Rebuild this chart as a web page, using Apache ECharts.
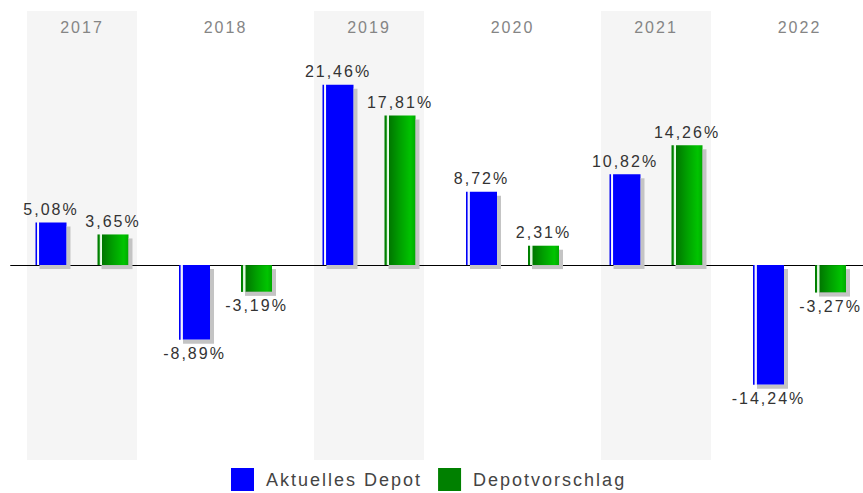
<!DOCTYPE html>
<html>
<head>
<meta charset="utf-8">
<script src="https://cdn.jsdelivr.net/npm/echarts@6/dist/echarts.min.js"></script>
<style>
  html, body { margin: 0; padding: 0; background: #fff; overflow: hidden; width: 863px; height: 493px; }
  #chart { width: 880px; height: 493px; }
  #chart text { letter-spacing: 2px; }
</style>
</head>
<body>
<div id="chart"></div>
<script>
const years = ['2017', '2018', '2019', '2020', '2021', '2022'];
const aktuellesDepot = [5.08, -8.89, 21.46, 8.72, 10.82, -14.24];
const depotvorschlag = [3.65, -3.19, 17.81, 2.31, 14.26, -3.27];
const shadedYears = ['2017', '2019', '2021'];
const seriesNames = ['Aktuelles Depot', 'Depotvorschlag'];
const legendColors = ['#0000ff', '#008000'];

const FONT = '"Liberation Sans", Arial, Helvetica, sans-serif';

function fmt(v) { return v.toFixed(2).replace('.', ',') + '%'; }

function barData(values) {
  return values.map(v => ({
    value: v,
    label: { position: v < 0 ? 'bottom' : 'top', distance: v < 0 ? 6 : 5 }
  }));
}

const blueGrad = new echarts.graphic.LinearGradient(0, 0, 1, 0, [
  { offset: 0, color: '#0000ee' },
  { offset: 0.04, color: '#0000ff' },
  { offset: 0.06, color: '#e8e8ff' },
  { offset: 0.11, color: '#ffffff' },
  { offset: 0.13, color: '#0000ff' },
  { offset: 1, color: '#0000ff' }
]);
const greenGrad = new echarts.graphic.LinearGradient(0, 0, 1, 0, [
  { offset: 0, color: '#007a00' },
  { offset: 0.06, color: '#008800' },
  { offset: 0.08, color: '#d8f0d8' },
  { offset: 0.13, color: '#e8ffe8' },
  { offset: 0.16, color: '#007800' },
  { offset: 0.5, color: '#00a000' },
  { offset: 0.85, color: '#00c400' },
  { offset: 1, color: '#00aa00' }
]);

const shadow = { shadowColor: '#c4c4c4', shadowOffsetX: 4, shadowOffsetY: 4, shadowBlur: 0 };

const chart = echarts.init(document.getElementById('chart'), null, { renderer: 'svg' });
chart.setOption({
  animation: false,
  backgroundColor: '#ffffff',
  textStyle: { fontFamily: FONT },
  grid: { left: 10.25, width: 861, top: 11, bottom: 33, containLabel: false },
  legend: {
    data: seriesNames.map((n, i) => ({
      name: n,
      itemStyle: { color: legendColors[i], shadowBlur: 0, shadowOffsetX: 0, shadowOffsetY: 0, shadowColor: 'transparent' }
    })),
    left: 231,
    top: 468,
    padding: 0,
    icon: 'rect',
    itemWidth: 23,
    itemHeight: 23,
    itemGap: 46,
    selectedMode: false,
    textStyle: { fontSize: 18, color: '#444', fontFamily: FONT, padding: [0, 0, 0, 7] }
  },
  xAxis: [
    {
      type: 'category',
      data: years,
      position: 'top',
      axisLine: { show: false },
      axisTick: { show: false },
      splitLine: { show: false },
      axisLabel: { inside: true, margin: 8, color: '#858585', fontSize: 16, fontFamily: FONT }
    },
    {
      type: 'category',
      data: years,
      show: false
    }
  ],
  yAxis: [
    { type: 'value', min: -23.2, max: 30.25, show: false, splitLine: { show: false } },
    { type: 'value', min: 0, max: 1, show: false, splitLine: { show: false } }
  ],
  series: [
    {
      name: 'band',
      type: 'bar',
      xAxisIndex: 1,
      yAxisIndex: 1,
      z: 0,
      silent: true,
      barWidth: 110,
      itemStyle: { color: '#f5f5f5' },
      data: years.map(y => shadedYears.includes(y) ? 1 : '-')
    },
    {
      name: seriesNames[0],
      type: 'bar',
      z: 2,
      barWidth: 31,
      barGap: '100%',
      itemStyle: Object.assign({ color: blueGrad }, shadow),
      label: { show: true, formatter: p => fmt(p.value), fontSize: 16, color: '#333', fontFamily: FONT },
      data: barData(aktuellesDepot),
      markLine: {
        silent: true,
        z: 1,
        symbol: 'none',
        label: { show: false },
        lineStyle: { color: '#000', width: 1, type: 'solid' },
        data: [{ yAxis: 0 }]
      }
    },
    {
      name: seriesNames[1],
      type: 'bar',
      z: 2,
      barWidth: 31,
      barGap: '100%',
      itemStyle: Object.assign({ color: greenGrad }, shadow),
      label: { show: true, formatter: p => fmt(p.value), fontSize: 16, color: '#333', fontFamily: FONT },
      data: barData(depotvorschlag)
    }
  ]
});
</script>
</body>
</html>
